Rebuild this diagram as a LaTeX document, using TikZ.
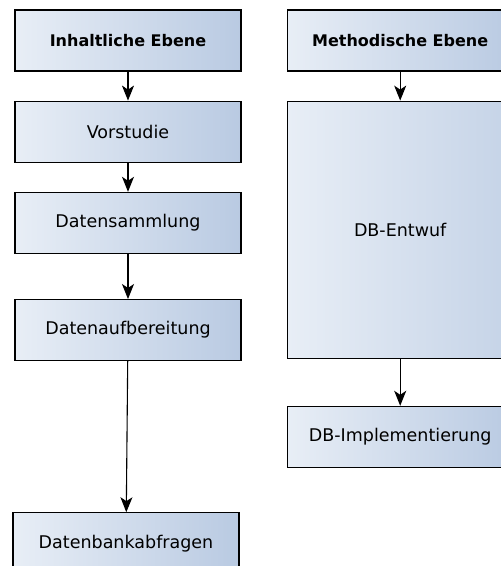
\documentclass[tikz,border=0pt]{standalone}
\usepackage{fontspec}
\setmainfont{DejaVu Sans}
\usepackage{tikz}
\usetikzlibrary{arrows.meta,positioning}
\definecolor{boxlight}{HTML}{E8EEF6}
\definecolor{boxdark}{HTML}{B9CAE2}
\tikzset{
  arrow/.style={-{Stealth[length=15pt,width=12pt,inset=4pt]},line width=1.1pt,color=black},
}

\begin{document}
\begin{tikzpicture}[node distance=29pt and 45pt,
  stage/.style={rectangle,draw=black,line width=1.2pt,minimum width=226pt,
    minimum height=61pt,inner sep=0pt,left color=boxlight,right color=boxdark,
    font=\fontsize{17.5}{20}\selectfont,text=black},
  level/.style={stage,font=\fontsize{16}{19}\selectfont\bfseries}]

  \clip (0,0) rectangle (501pt,-566pt);

  % inhaltliche Seite
  \node[level] (inh) at (128pt,-40.5pt) {Inhaltliche Ebene};
  \node[stage,below=of inh] (vor) {Vorstudie};
  \node[stage,below=of vor] (sam) {Datensammlung};
  \node[stage,below=45pt of sam] (auf) {Datenaufbereitung};
  \node[stage,below=151pt of auf,xshift=-2pt] (abf) {Datenbankabfragen};

  % methodische Seite
  \node[level,right=of inh] (meth) {Methodische Ebene};
  \node[stage,below=of meth,minimum height=257pt,shading angle=60,
    right color=boxdark!75!boxlight] (entw) {DB-Entwuf};
  \node[stage,below=47pt of entw] (impl) {DB-Implementierung};

  \draw[arrow] (inh) -- (vor);
  \draw[arrow] (vor) -- (sam);
  \draw[arrow] (sam) -- (auf);
  \draw[arrow] (auf) -- (abf);
  \draw[arrow] (meth) -- (entw);
  \draw[arrow] (entw) -- (impl);
\end{tikzpicture}
\end{document}
